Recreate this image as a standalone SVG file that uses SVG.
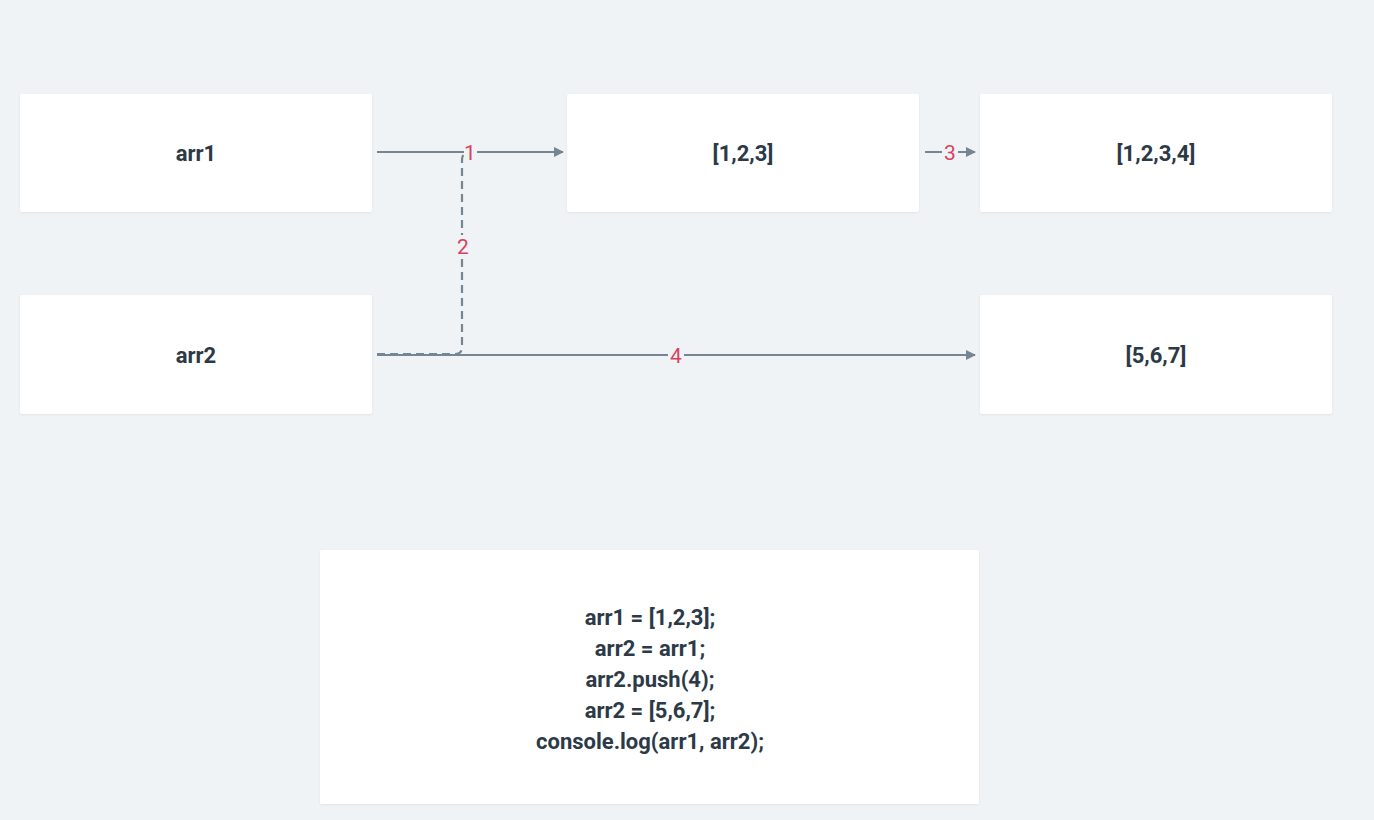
<svg xmlns="http://www.w3.org/2000/svg" width="1374" height="820" viewBox="0 0 1374 820">
<style>
.node{fill:#ffffff;filter:url(#sh)}
.t{font-family:Roboto,"Liberation Sans",sans-serif;font-weight:bold;font-size:22px;fill:#2c3a48;text-anchor:middle;dominant-baseline:central}
.e{fill:none;stroke:#768592;stroke-width:2}
.d{stroke-dasharray:8,5;stroke-width:2.2}
.l{font-family:Roboto,"Liberation Sans",sans-serif;font-size:21px;fill:#d9425e;text-anchor:middle;dominant-baseline:central}
</style>
<defs>
<filter id="sh" x="-5%" y="-5%" width="110%" height="110%"><feDropShadow dx="0" dy="1" stdDeviation="1" flood-color="#000" flood-opacity="0.06"/></filter>
<marker id="a" viewBox="0 0 10 10" refX="9" refY="5" markerWidth="5" markerHeight="5" orient="auto"><path d="M0,0L10,5L0,10z" fill="#768592"/></marker>
</defs>
<rect width="1374" height="820" fill="#eff3f6"/>
<g id="n-arr1"><rect class="node" x="20" y="94" width="352" height="118" rx="2"/><text class="t" x="196" y="153">arr1</text></g>
<g id="n-a123"><rect class="node" x="567" y="94" width="352" height="118" rx="2"/><text class="t" x="743" y="153">[1,2,3]</text></g>
<g id="n-a1234"><rect class="node" x="980" y="94" width="352" height="118" rx="2"/><text class="t" x="1156" y="153">[1,2,3,4]</text></g>
<g id="n-arr2"><rect class="node" x="20" y="295" width="352" height="119" rx="2"/><text class="t" x="196" y="355">arr2</text></g>
<g id="n-a567"><rect class="node" x="980" y="295" width="352" height="119" rx="2"/><text class="t" x="1156" y="355">[5,6,7]</text></g>
<g id="n-code"><rect class="node" x="320" y="550" width="659" height="254" rx="2"/>
<text class="t" x="650" y="617">arr1 = [1,2,3];</text>
<text class="t" x="650" y="648">arr2 = arr1;</text>
<text class="t" x="650" y="679">arr2.push(4);</text>
<text class="t" x="650" y="710">arr2 = [5,6,7];</text>
<text class="t" x="650" y="741">console.log(arr1, arr2);</text>
</g>
<g id="edges">
<path class="e" d="M377,152H563" marker-end="url(#a)"/>
<path class="e d" d="M377,354H455Q462,354 462,347V160Q462,152 470,152H563"/>
<path class="e" d="M377,355H975" marker-end="url(#a)"/>
<path class="e" d="M925,152H975" marker-end="url(#a)"/>
<rect x="464" y="142" width="13" height="22" fill="#eff3f6"/>
<text class="l" x="470" y="153">1</text>
<rect x="455" y="235" width="16" height="24" fill="#eff3f6"/>
<text class="l" x="463" y="247">2</text>
<rect x="942" y="141" width="16" height="24" fill="#eff3f6"/>
<text class="l" x="950" y="153">3</text>
<rect x="668" y="343" width="16" height="24" fill="#eff3f6"/>
<text class="l" x="676" y="356">4</text>
</g>
</svg>
